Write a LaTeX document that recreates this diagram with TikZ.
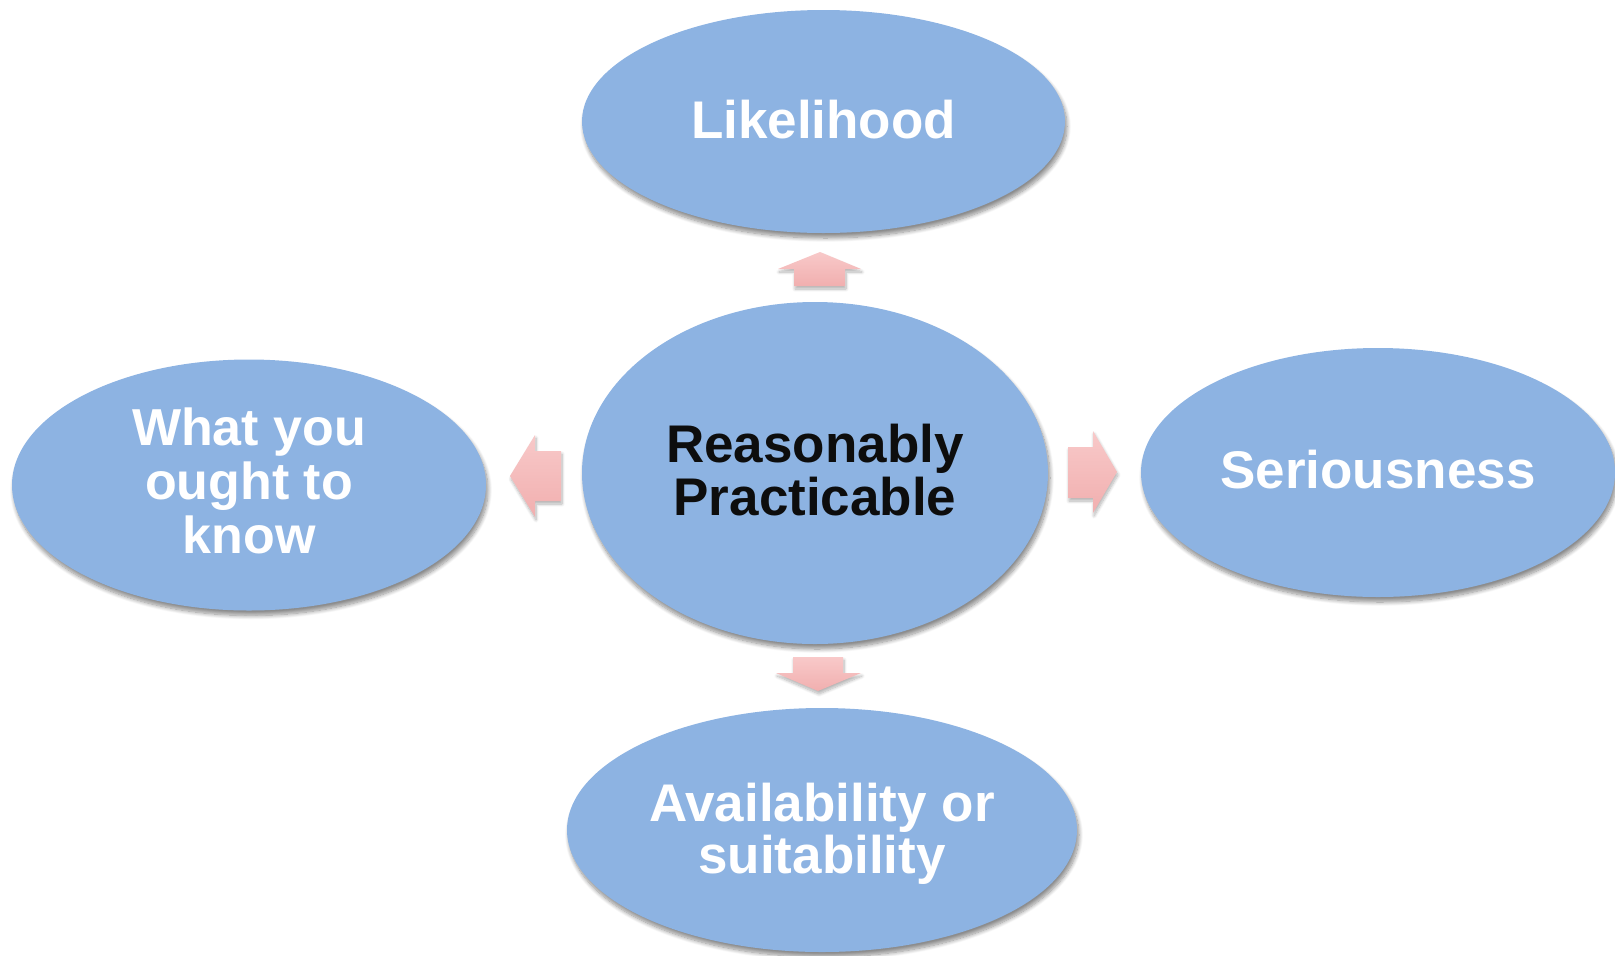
\documentclass[tikz,border=0pt]{standalone}
\usepackage{fontspec}
\setmainfont{Liberation Sans}
\usetikzlibrary{shapes.geometric,shadows.blur}
\definecolor{ellfill}{HTML}{8DB3E2}
\definecolor{pinktop}{HTML}{F8C9C9}
\definecolor{pinkbot}{HTML}{F1AFAF}
\definecolor{darktext}{HTML}{0D0D0D}
\tikzset{
  bubble/.style={ellipse, fill=ellfill, draw=none, inner sep=0pt,
    blur shadow={shadow xshift=2pt, shadow yshift=-5pt, shadow blur radius=4pt, shadow blur steps=10, shadow opacity=45}},
  lbl/.style={inner sep=0pt, align=center, text=white,
    font=\fontsize{53}{53}\selectfont\bfseries},
  blockarrow/.style={top color=pinktop, bottom color=pinkbot, draw=none,
    blur shadow={shadow xshift=1pt, shadow yshift=-3pt, shadow blur radius=3pt, shadow blur steps=8, shadow opacity=30}}
}
\begin{document}
\begin{tikzpicture}[x=1pt,y=-1pt]
\useasboundingbox (0,0) rectangle (1615,956);

% ellipses
\node[bubble, minimum width=483, minimum height=223] (like) at (823.5,121.5) {};
\node[bubble, minimum width=466, minimum height=342] (rp) at (815,473) {};
\node[bubble, minimum width=474, minimum height=249] (ser) at (1378,472.5) {};
\node[bubble, minimum width=474, minimum height=251] (know) at (249,485) {};
\node[bubble, minimum width=510, minimum height=244] (avail) at (822,830) {};

% labels
\node[lbl] (liket) at ([yshift=1.5pt]like.center) {Likelihood};
\node[lbl, text=darktext, font=\fontsize{53}{52.5}\selectfont\bfseries] (rpt) at ([yshift=3pt]rp.center) {Reasonably\\Practicable};
\node[lbl] (sert) at ([yshift=2.5pt]ser.center) {Seriousness};
\node[lbl, font=\fontsize{52}{54}\selectfont\bfseries] (knowt) at ([yshift=4pt]know.center) {What you\\ought to\\know};
\node[lbl, font=\fontsize{53}{52}\selectfont\bfseries] (availt) at ([yshift=-4pt]avail.center) {Availability or\\suitability};

% block arrows
\path[blockarrow] (794,286) -- (794,269) -- (778,269) -- (820,252) -- (861,269) -- (845,269) -- (845,286) -- cycle;
\path[blockarrow] (793,657) -- (843,657) -- (843,673) -- (861,673) -- (818,691) -- (776,673) -- (793,673) -- cycle;
\path[blockarrow] (561,451) -- (535,451) -- (535,435) -- (510,476) -- (535,517) -- (535,501) -- (561,501) -- cycle;
\path[blockarrow] (1068,447) -- (1093,447) -- (1093,431) -- (1117,472) -- (1093,513) -- (1093,498) -- (1068,498) -- cycle;
\end{tikzpicture}
\end{document}
